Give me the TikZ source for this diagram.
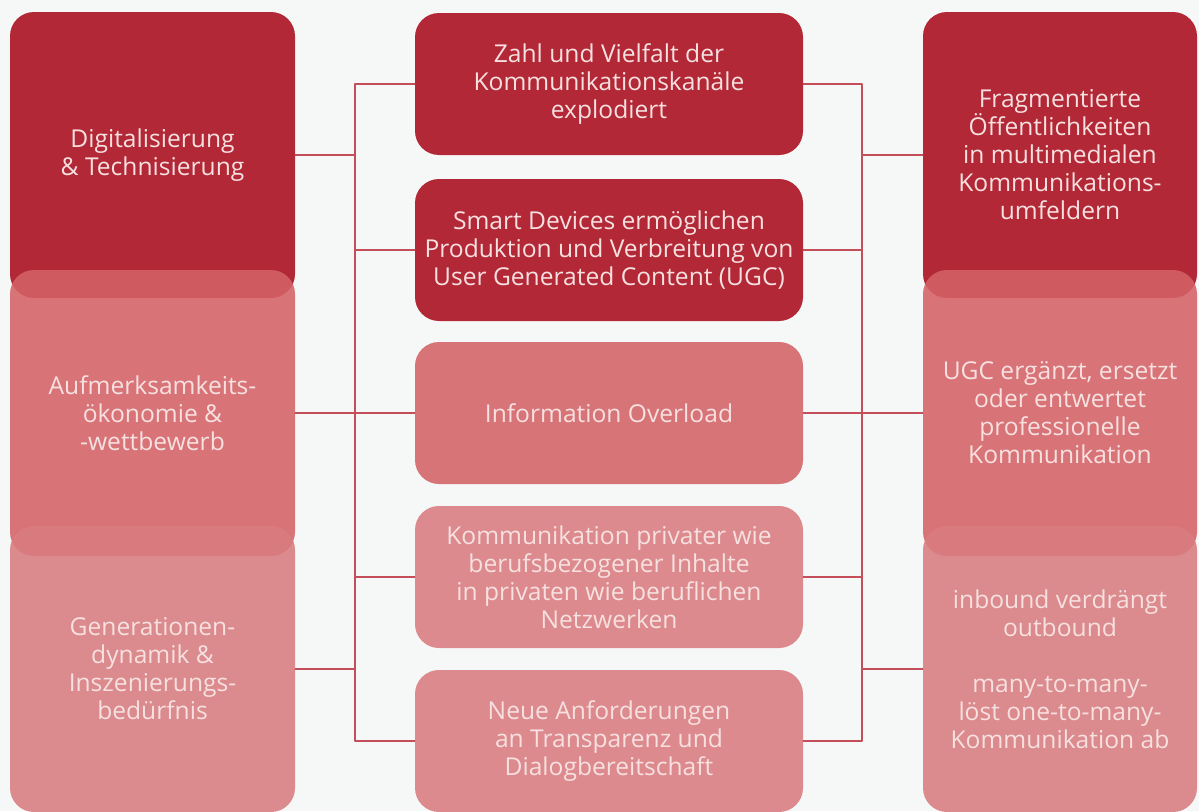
\documentclass[tikz,border=0pt]{standalone}
\usepackage{fontspec}
\newfontfamily\boxfont{Open Sans}
\usetikzlibrary{calc}
\definecolor{bgwhite}{RGB}{246,247,247}
\definecolor{darkred}{RGB}{178,40,54}
\definecolor{midpink}{RGB}{215,116,119}
\definecolor{lightpink}{RGB}{220,138,141}
% column colours, seen through fill opacity 0.88
\definecolor{colmid}{RGB}{212,99,103}
\definecolor{collight}{RGB}{216,123,127}
\definecolor{linered}{RGB}{196,78,90}
\definecolor{boxtext}{RGB}{247,224,224}

\begin{document}
\begin{tikzpicture}[x=1pt, y=-1pt, line cap=round, line join=round,
  box/.style={rectangle, rounded corners=24pt, inner sep=0pt, align=center,
    text=boxtext, font=\boxfont\fontsize{24.6}{28}\selectfont},
  colbox/.style={box, minimum width=285pt, minimum height=286pt},
  overbox/.style={fill opacity=0.88, text opacity=1},
  rcolbox/.style={colbox, minimum width=274pt},
  midbox/.style={box, minimum width=388pt, minimum height=142pt},
  link/.style={draw=linered, line width=1.3pt}]
\fill[bgwhite] (0,0) rectangle (1199,811);
\useasboundingbox (0,0) rectangle (1199,811);
%========================
% Left: drivers
%========================
\node[colbox, fill=darkred] (L1) at (152.5,155) {Digitalisierung\\\& Technisierung};
\node[colbox, overbox, fill=colmid] (L2) at (152.5,413) {Aufmerksamkeits-\\ökonomie \&\\-wettbewerb};
\node[colbox, overbox, fill=collight] (L3) at (152.5,669) {Generationen-\\dynamik \&\\Inszenierungs-\\bedürfnis};

%========================
% Middle: effects
%========================
\node[midbox, fill=darkred] (M1) at (609,84) {Zahl und Vielfalt der\\Kommunikationskanäle\\explodiert};
\node[midbox, fill=darkred] (M2) at (609,250) {Smart Devices ermöglichen\\Produktion und Verbreitung von\\User Generated Content (UGC)};
\node[midbox, fill=midpink] (M3) at (609,413) {Information Overload};
\node[midbox, fill=lightpink] (M4) at (609,577) {Kommunikation privater wie\\berufsbezogener Inhalte\\in privaten wie beruflichen\\Netzwerken};
\node[midbox, fill=lightpink] (M5) at (609,741) {Neue Anforderungen\\an Transparenz und\\Dialogbereitschaft};

%========================
% Right: consequences
%========================
\node[rcolbox, fill=darkred] (R1) at (1060,155) {Fragmentierte\\Öffentlichkeiten\\in multimedialen\\Kommunikations-\\umfeldern};
\node[rcolbox, overbox, fill=colmid] (R2) at (1060,413) {UGC ergänzt, ersetzt\\oder entwertet\\professionelle\\Kommunikation};
\node[rcolbox, overbox, fill=collight] (R3) at (1060,669) {inbound verdrängt\\outbound\\[28pt]many-to-many-\\löst one-to-many-\\Kommunikation ab};

% bus lines
\coordinate (lbus) at (355,84);
\coordinate (rbus) at (862,84);
\draw[link] (M1.west) -- (M1.west -| lbus) -- (M5.west -| lbus) -- (M5.west);
\draw[link] (M1.east) -- (M1.east -| rbus) -- (M5.east -| rbus) -- (M5.east);
\foreach \m in {M2,M4} {
  \draw[link] (\m.west) -- (\m.west -| lbus);
  \draw[link] (\m.east) -- (\m.east -| rbus);
}
\draw[link] (L1.east) -- (L1.east -| lbus);
\draw[link] (L3.east) -- (L3.east -| lbus);
\draw[link] (L2.east) -- (M3.west);
\draw[link] (R1.west) -- (R1.west -| rbus);
\draw[link] (R3.west) -- (R3.west -| rbus);
\draw[link] (M3.east) -- (R2.west);
\end{tikzpicture}
\end{document}
